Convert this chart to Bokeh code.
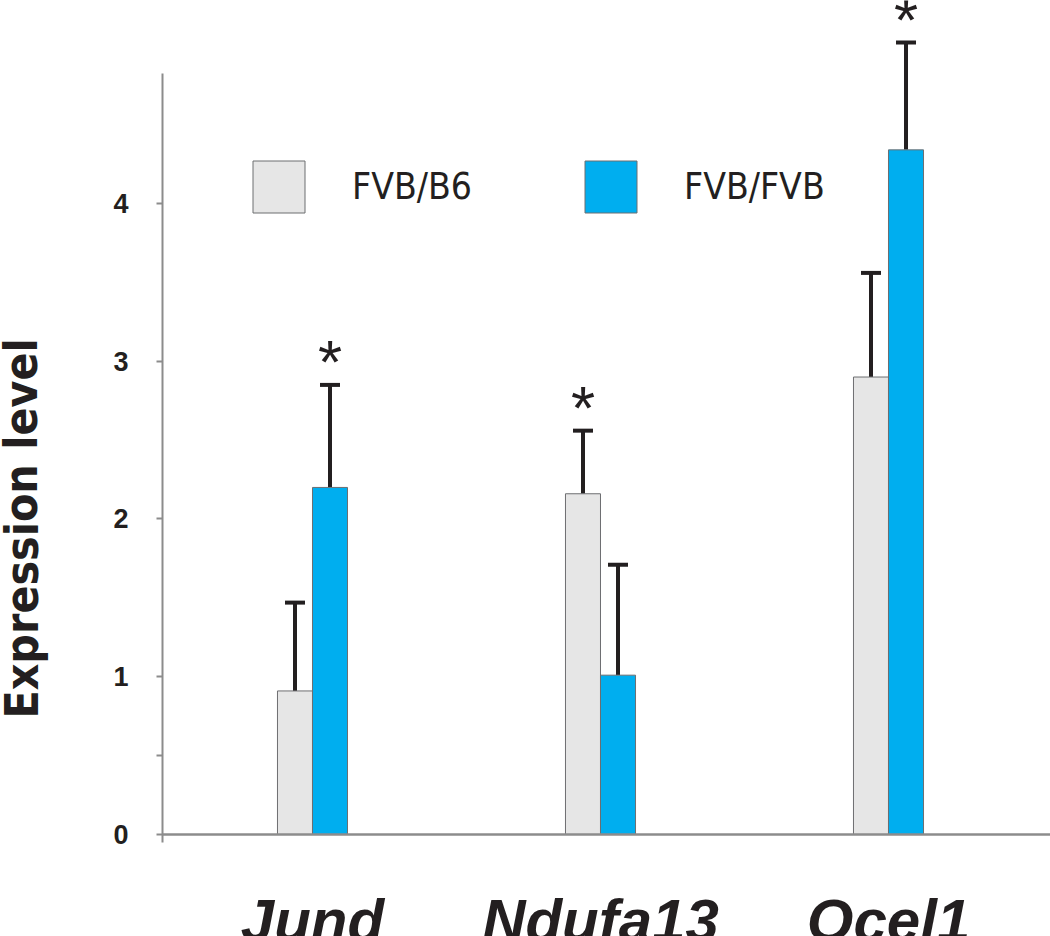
from bokeh.plotting import figure
from bokeh.models import (ColumnDataSource, Range1d, Whisker, TeeHead,
                          Legend, LegendItem, Label, FixedTicker)
from bokeh.transform import dodge
from bokeh.core.properties import value
from bokeh.embed import file_html
from bokeh.resources import INLINE

# ---- data ----
genes = ["Jund", "Ndufa13", "Ocel1"]
series_names = ["FVB/B6", "FVB/FVB"]
fvb_b6 = [0.91, 2.16, 2.90]
fvb_b6_err = [0.56, 0.40, 0.66]
fvb_fvb = [2.20, 1.01, 4.34]
fvb_fvb_err = [0.65, 0.70, 0.68]
sig_b6 = ["", "*", ""]
sig_fvb = ["*", "", "*"]
y_ticks = [0, 0.5, 1, 2, 3, 4]
y_tick_labels = ["0", "", "1", "2", "3", "4"]
y_title = "Expression level"

GRAY = "#e6e6e6"
BLUE = "#00aeef"
INK = "#231f20"
AXIS = "#8c8c8c"

pos = list(range(len(genes)))  # category slots on the x scale

# plot area covers the whole canvas; axes are pinned inside it
p = figure(width=1050, height=936,
           x_range=Range1d(-1.0833, 2.5625),
           y_range=Range1d(-0.6466, 5.2868),
           output_backend="svg", toolbar_location=None,
           min_border_left=0, min_border_right=0, min_border_top=0, min_border_bottom=0)
p.outline_line_color = None
p.grid.visible = False
p.background_fill_color = "white"
p.border_fill_color = "white"

src_b6 = ColumnDataSource(dict(pos=pos, gene=genes, val=fvb_b6,
                               upper=[v + e for v, e in zip(fvb_b6, fvb_b6_err)], star=sig_b6))
src_fvb = ColumnDataSource(dict(pos=pos, gene=genes, val=fvb_fvb,
                                upper=[v + e for v, e in zip(fvb_fvb, fvb_fvb_err)], star=sig_fvb))

off = 0.0608
bw = 0.1216
bars = []
for src, d, col in [(src_b6, -off, GRAY), (src_fvb, off, BLUE)]:
    xs = dodge("pos", d)
    r = p.vbar(x=xs, top="val", bottom=0, width=bw, source=src,
               fill_color=col, line_color="#6d6e71", line_width=1)
    bars.append(r)
    p.add_layout(Whisker(source=src, base=xs, upper="upper", lower="val",
                         upper_head=TeeHead(size=20, line_width=4, line_color=INK),
                         lower_head=None, line_width=4, line_color=INK))
    p.text(x=xs, y="upper", text="star", source=src, text_align="center",
           text_baseline="alphabetic", y_offset=-23, text_font=value("Liberation Sans"),
           text_font_size="62px", text_color=INK)

legend = Legend(items=[LegendItem(label=series_names[0], renderers=[bars[0]]),
                       LegendItem(label=series_names[1], renderers=[bars[1]])],
                location=(246, 717), orientation="horizontal",
                glyph_width=65, glyph_height=65, label_standoff=41, label_width=226,
                label_height=65, spacing=0, padding=0, margin=0,
                border_line_color=None, background_fill_alpha=0,
                label_text_font="DejaVu Sans Condensed", label_text_font_size="37px",
                label_text_color=INK, label_text_baseline="middle")
p.add_layout(legend)

# y axis (pinned at the left edge of the bar area)
ya = p.yaxis[0]
ya.fixed_location = -0.5208
ya.ticker = FixedTicker(ticks=y_ticks)
ya.major_label_overrides = {t: l for t, l in zip(y_ticks, y_tick_labels)}
ya.bounds = (-0.05, 4.824)
ya.axis_line_color = AXIS
ya.axis_line_width = 2
ya.major_tick_line_color = AXIS
ya.major_tick_line_width = 2
ya.major_tick_out = 6
ya.major_tick_in = 0
ya.minor_tick_line_color = None
ya.major_label_standoff = 28
ya.major_label_text_font = "Liberation Sans"
ya.major_label_text_font_style = "bold"
ya.major_label_text_font_size = "27px"
ya.major_label_text_color = INK

p.add_layout(Label(x=21, y=1.94, x_units="screen", y_units="data", text=y_title,
                   angle=1.5708, text_align="center", text_baseline="middle",
                   text_font="DejaVu Sans Condensed", text_font_style="bold",
                   text_font_size="46px", text_color=INK))

# x axis (pinned at y = 0)
xa = p.xaxis[0]
xa.fixed_location = 0
xa.bounds = (-0.5208, 2.5625)
xa.ticker = FixedTicker(ticks=pos)
xa.major_label_overrides = {i: g for i, g in zip(pos, genes)}
xa.axis_line_color = AXIS
xa.axis_line_width = 2.5
xa.major_tick_line_color = None
xa.minor_tick_line_color = None
xa.major_tick_out = 0
xa.major_tick_in = 0
xa.major_label_standoff = 53
xa.major_label_text_font = "Liberation Sans"
xa.major_label_text_font_style = "bold italic"
xa.major_label_text_font_size = "60px"
xa.major_label_text_color = INK

open("out.html", "w").write(file_html(p, INLINE))
